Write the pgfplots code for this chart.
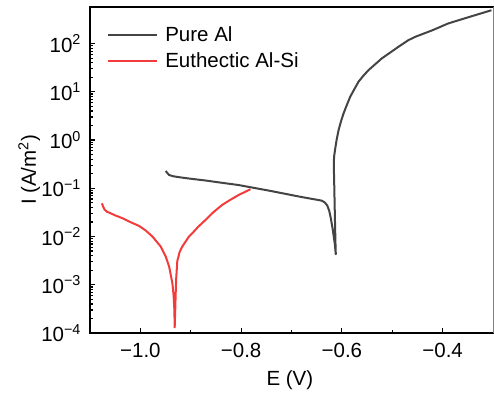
\documentclass[border=0pt]{standalone}
\usepackage{fontspec}
\setmainfont{Liberation Sans}
\usepackage{pgfplots}
\pgfplotsset{compat=1.18}
\definecolor{alg}{HTML}{444444}
\definecolor{alr}{HTML}{F23B3B}
\newcommand{\fs}{\fontsize{20.5}{24}\selectfont}
\begin{document}
\fs
\begin{tikzpicture}
\useasboundingbox (-90pt,-66pt) rectangle (404pt,333pt);
\begin{axis}[name=ax, at={(0pt,0pt)}, anchor=south west, scale only axis,
  width=403pt, height=326pt,
  ymode=log, xmin=-1.1, xmax=-0.3, ymin=1e-4, ymax=575,
  xtick={-1,-0.8,-0.6,-0.4}, xticklabels={−1.0,−0.8,−0.6,−0.4},
  minor xtick={-0.9,-0.7,-0.5},
  ytick={1e-4,1e-3,1e-2,1e-1,1,10,100},
  yticklabels={10\textsuperscript{−4},10\textsuperscript{−3},10\textsuperscript{−2},10\textsuperscript{−1},10\textsuperscript{0},10\textsuperscript{1},10\textsuperscript{2}},
  tick align=inside, major tick length=5pt, minor tick length=3pt,
  tick style={line width=1.2pt, black},
  xtick pos=bottom, ytick pos=left,
  axis line style={draw=none},
  tick label style={font=\fs},
  xticklabel style={yshift=-3pt},
  yticklabel style={xshift=-2pt},
  label style={font=\fs},
  xlabel={E (V)}, ylabel={I (A/m\textsuperscript{2})},
  xlabel style={at={(axis description cs:0.496,-0.144)}, anchor=center},
  ylabel style={at={(axis description cs:-0.151,0.5)}, anchor=center},
  legend style={draw=none, fill=none, font=\fs, at={(axis description cs:0.0424,0.947)}, anchor=north west, row sep=4pt, inner sep=0pt},
  legend cell align=left,
  legend image code/.code={\draw[#1] (0pt,0pt) -- (49pt,0pt); \path (54pt,0pt);},
]
\addplot[alg, line width=2pt] coordinates {
(-0.9497,0.229) (-0.946,0.205) (-0.943,0.189) (-0.935,0.178) (-0.923,0.170)
(-0.900,0.158) (-0.870,0.145) (-0.840,0.131) (-0.805,0.117) (-0.785,0.107)
(-0.745,0.0897) (-0.719,0.0794) (-0.680,0.066) (-0.640,0.0556) (-0.634,0.051)
(-0.629,0.044) (-0.625,0.034) (-0.622,0.024) (-0.618,0.0138) (-0.614,0.007) (-0.612,0.0042)
(-0.6125,0.006) (-0.613,0.01) (-0.614,0.03) (-0.615,0.1) (-0.616,0.3)
(-0.6155,0.45) (-0.6131,0.676) (-0.6105,1.0) (-0.6065,1.62) (-0.6015,2.5) (-0.5966,3.59)
(-0.590,5.4) (-0.5834,7.93) (-0.575,11.5) (-0.567,16.2) (-0.557,21.8) (-0.547,28.3)
(-0.5208,49.3) (-0.4877,86) (-0.468,118) (-0.4547,138) (-0.420,190) (-0.389,262)
(-0.350,350) (-0.303,493)
};
\addlegendentry{Pure Al}
\addplot[alr, line width=2pt] coordinates {
(-1.0764,0.049) (-1.074,0.042) (-1.071,0.036) (-1.066,0.0325) (-1.062,0.0314)
(-1.050,0.0275) (-1.0356,0.024) (-1.020,0.020) (-1.0026,0.0166) (-0.990,0.0135)
(-0.976,0.010) (-0.9596,0.0062) (-0.9497,0.00385) (-0.943,0.0024) (-0.9366,0.0011)
(-0.934,0.0006) (-0.9325,0.0003) (-0.9319,0.000126)
(-0.9308,0.0003) (-0.9300,0.0006) (-0.929,0.0013) (-0.9267,0.0031) (-0.922,0.0048)
(-0.9168,0.0062) (-0.9036,0.0100) (-0.897,0.0117) (-0.885,0.016) (-0.8705,0.0222)
(-0.855,0.032) (-0.8376,0.0453) (-0.820,0.059) (-0.8046,0.0730) (-0.7814,0.0957)
};
\addlegendentry{Euthectic Al-Si}
\end{axis}
\draw[line width=1.8pt, line cap=rect] (ax.north east) -- (ax.north west) -- (ax.south west) -- (ax.south east);
\draw[line width=0.6pt, gray] (ax.south east) -- (ax.north east);
\end{tikzpicture}
\end{document}
